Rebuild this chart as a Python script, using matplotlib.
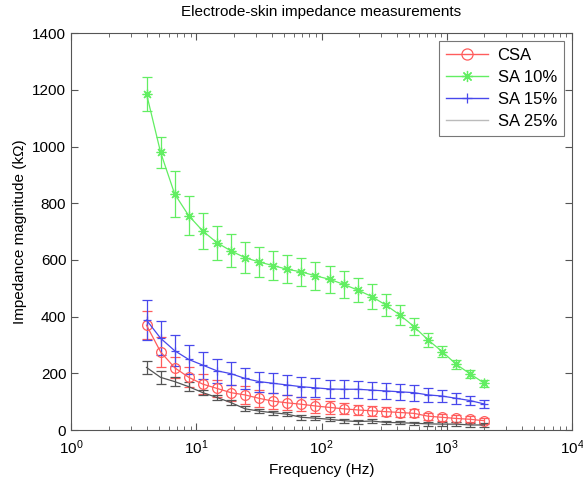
import numpy as np
import matplotlib
matplotlib.use("Agg")
import matplotlib.pyplot as plt
from matplotlib.lines import Line2D
from matplotlib.ticker import LogLocator, NullFormatter

plt.rcParams["font.family"] = ["Liberation Sans", "DejaVu Sans"]

# frequencies (Hz), 25 log-spaced points from 4 Hz to 2 kHz
freq = [4.0, 5.18, 6.71, 8.70, 11.27, 14.6, 18.9, 24.5, 31.7, 41.1, 53.3, 69.0,
        89.4, 115.8, 150.0, 194.4, 251.8, 326.2, 422.6, 547.5, 709.3, 918.9,
        1190.0, 1542.0, 2000.0]

# impedance magnitude (kOhm) and error (+/-)
csa = [370, 276, 220, 186, 162, 147, 132, 124, 112, 102, 96, 91, 85,
       80, 75, 71, 68, 65, 62, 59, 49, 45, 41, 38, 33]
csa_err = [50, 52, 38, 35, 35, 30, 28, 31, 31, 28, 26, 25, 24,
           22, 20, 19, 17, 16, 15, 14, 13, 12, 11, 10, 10]

sa10 = [1186, 980, 833, 756, 702, 661, 632, 608, 593, 580, 567, 558, 544,
        532, 514, 494, 471, 441, 406, 365, 318, 277, 232, 198, 165]
sa10_err = [61, 55, 80, 69, 62, 60, 58, 55, 53, 51, 50, 49, 49,
            48, 47, 43, 44, 38, 34, 31, 25, 18, 15, 13, 12]

sa15 = [388, 324, 280, 249, 229, 209, 199, 182, 171, 165, 159, 153, 149,
        145, 144, 144, 141, 138, 135, 132, 124, 120, 112, 104, 92]
sa15_err = [72, 60, 55, 50, 48, 42, 40, 36, 35, 35, 35, 35, 34,
            33, 31, 30, 30, 29, 29, 28, 25, 22, 19, 17, 15]

sa25 = [221, 186, 171, 153, 132, 115, 97, 75, 67, 61, 56, 45, 42,
        38, 33, 30, 32, 27, 26, 24, 22, 21, 21, 18, 18]
sa25_err = [24, 22, 15, 15, 10, 10, 9, 9, 8, 8, 8, 8, 7,
            7, 7, 7, 7, 6, 6, 6, 6, 6, 6, 6, 6]

labels = ["CSA", "SA 10%", "SA 15%", "SA 25%"]
series = [(csa, csa_err, "#ff5c5c", "o", 7),
          (sa10, sa10_err, "#62ee62", (8, 2, 0), 7),
          (sa15, sa15_err, "#4848ec", "+", 6),
          (sa25, sa25_err, "#555555", "", 0)]

fig = plt.figure(figsize=(5.83, 4.8), dpi=100)
ax = fig.add_axes([0.122, 0.104, 0.859, 0.827])

handles = []
for (y, e, c, m, ms), lab in zip(series, labels):
    ax.errorbar(freq, y, yerr=e, color=c, marker=m, markersize=ms,
                markerfacecolor="none", markeredgecolor=c, lw=0.9,
                markeredgewidth=0.9, elinewidth=0.9, capsize=3.5, capthick=0.9)
    lc = "#bbbbbb" if c == "#555555" else c
    handles.append(Line2D([], [], color=lc, marker=m, markersize=ms + 1,
                          markerfacecolor="none", markeredgecolor=c, lw=1.0,
                          markeredgewidth=0.9, label=lab))

ax.set_xscale("log")
ax.set_xlim(1, 1e4)
ax.set_ylim(0, 1400)
ax.set_yticks(range(0, 1401, 200))
ax.xaxis.set_minor_locator(LogLocator(base=10, subs=np.arange(2, 10)))
ax.xaxis.set_minor_formatter(NullFormatter())
ax.tick_params(which="both", direction="in", top=True, right=True,
               labelsize=11, colors="#555555", labelcolor="black")
ax.tick_params(axis="x", pad=6)
ax.tick_params(which="major", length=5)
ax.tick_params(which="minor", length=3)
for s in ax.spines.values():
    s.set_color("#555555")
    s.set_linewidth(0.8)

ax.set_xlabel("Frequency (Hz)", fontsize=11)
ax.set_ylabel("Impedance magnitude (k\u03a9)", fontsize=11)
ax.set_title("Electrode-skin impedance measurements", fontsize=11, pad=12)

leg = ax.legend(handles=handles, loc="upper right", fontsize=12, frameon=True,
                fancybox=False, edgecolor="#555555", borderaxespad=0.5,
                handlelength=2.5, handletextpad=0.6, labelspacing=0.42,
                borderpad=0.4)
leg.get_frame().set_linewidth(0.8)

fig.savefig("out.png", dpi=100)
